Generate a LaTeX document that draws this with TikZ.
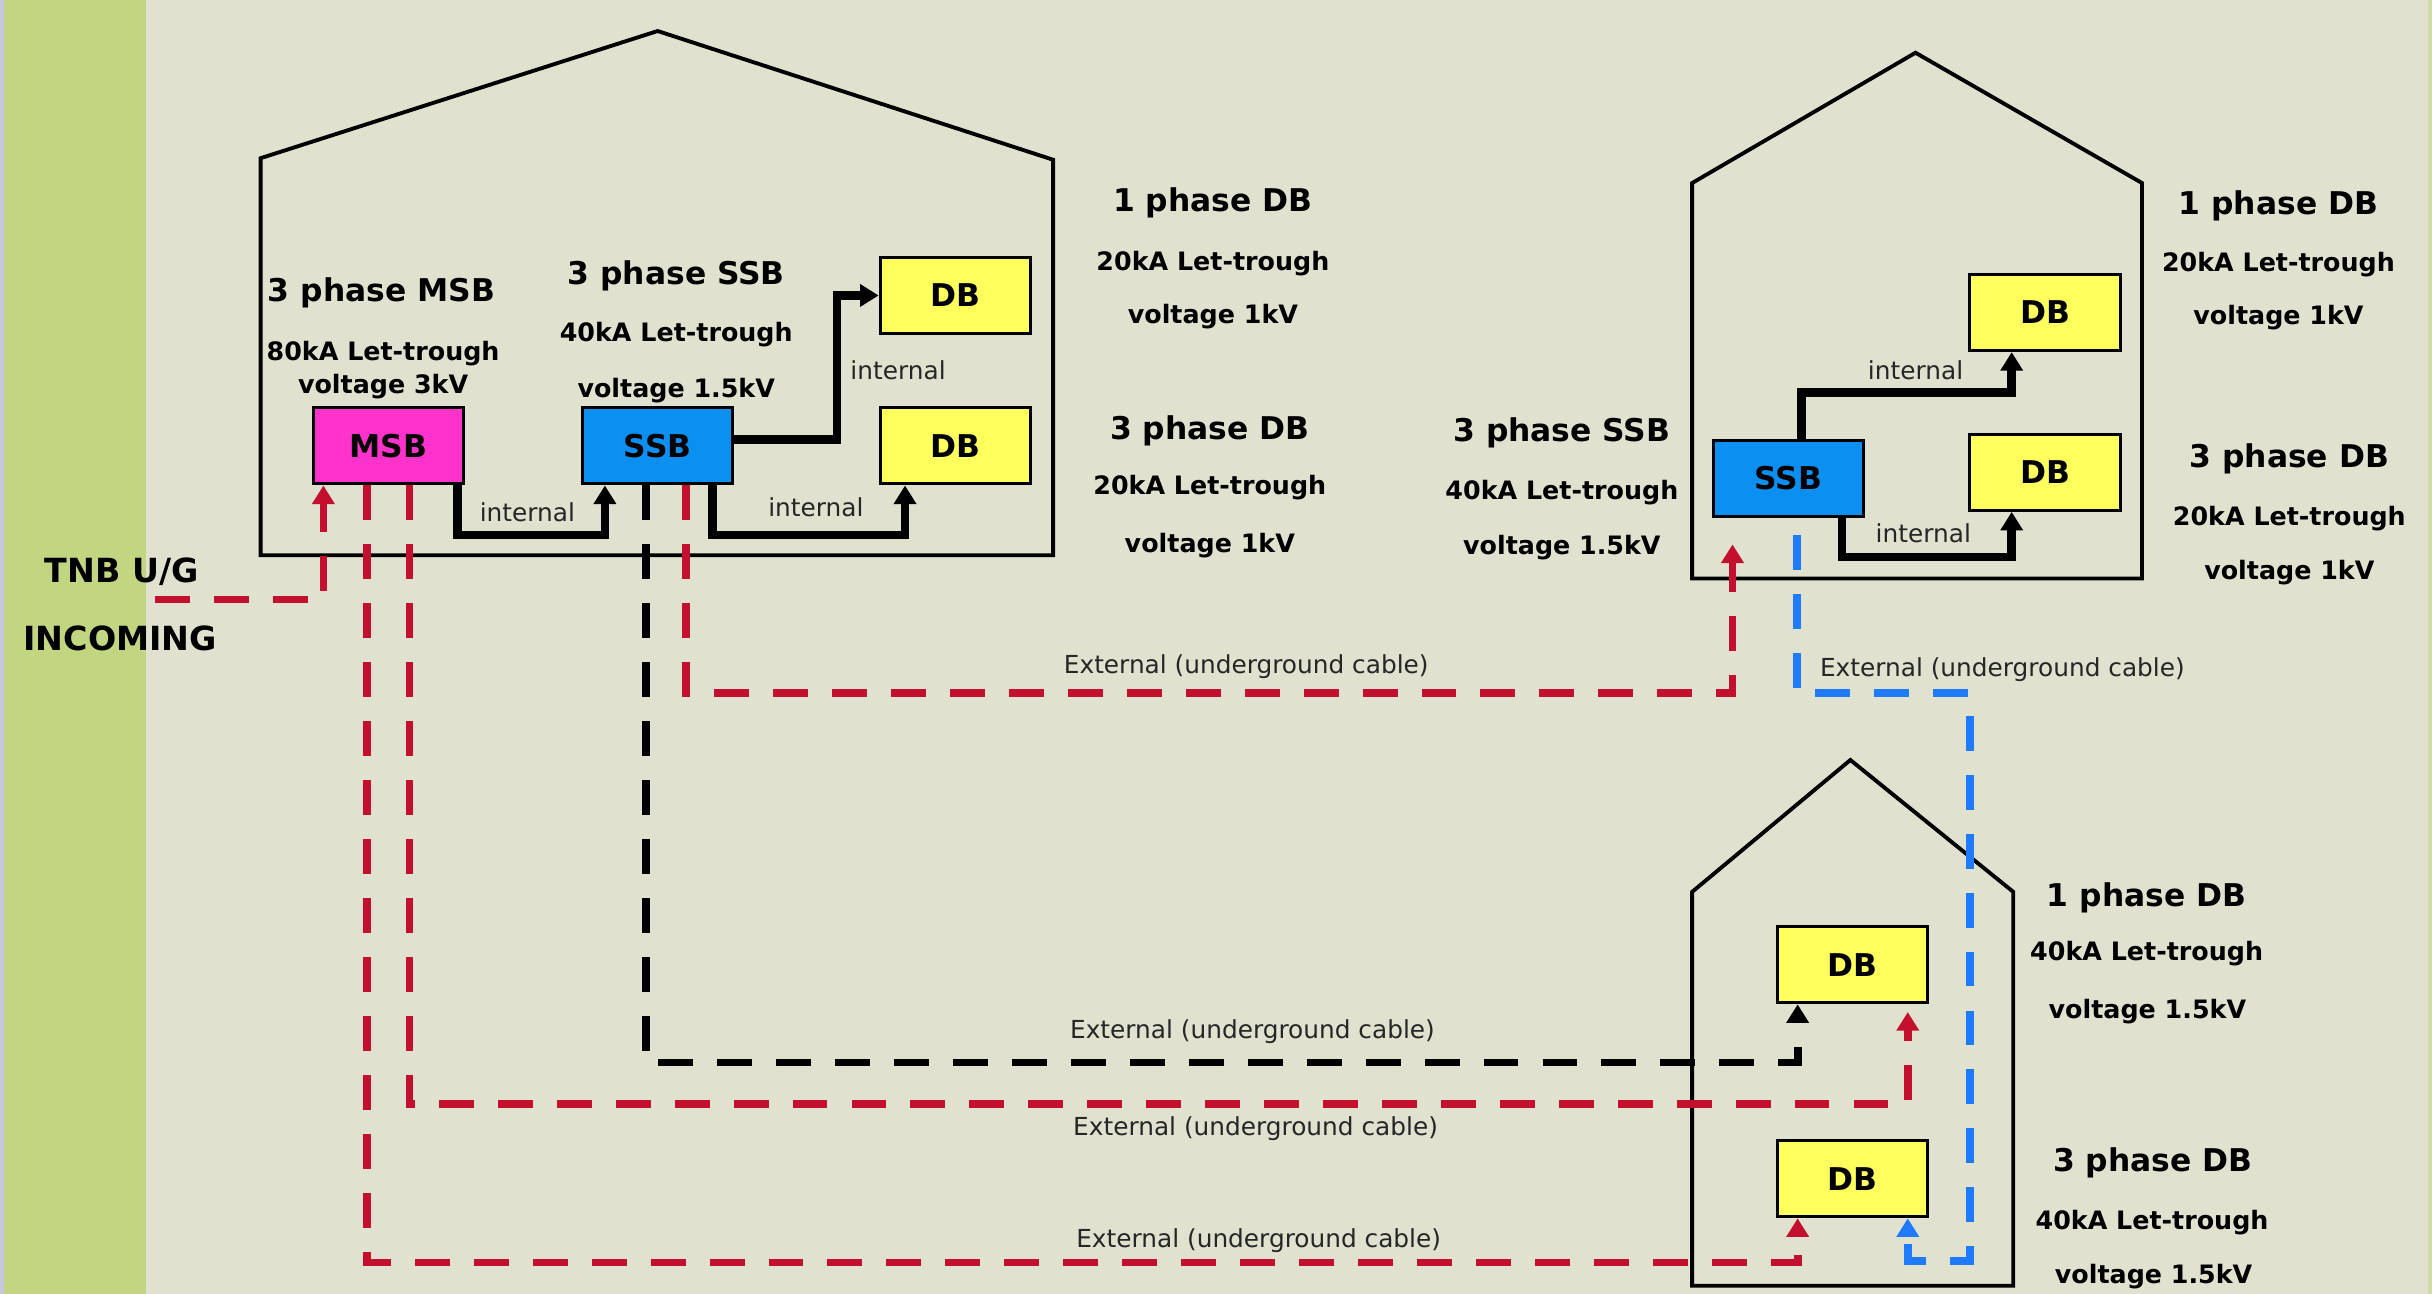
\documentclass[tikz,border=0pt]{standalone}
\usepackage{fontspec}
\setmainfont{DejaVu Sans}
\usetikzlibrary{arrows.meta}

\definecolor{bgpaper}{HTML}{E0E2CF}
\definecolor{strip}{HTML}{C2D580}
\definecolor{stripedge}{HTML}{C5C8DC}
\definecolor{msbpink}{HTML}{FF33CC}
\definecolor{ssbblue}{HTML}{0B90F2}
\definecolor{dbyellow}{HTML}{FFFF5E}
\definecolor{cablered}{HTML}{C3102F}
\definecolor{cableblue}{HTML}{1E7BFF}

\begin{document}
\begin{tikzpicture}[x=0.2mm, y=-0.2mm,
    box/.style={draw, line width=0.4mm, minimum width=19.4mm, minimum height=9.8mm, inner sep=0pt, font=\bfseries\fontsize{11.5}{14}\selectfont},
    house/.style={draw, line width=0.5mm},
    title/.style={font=\bfseries\fontsize{11.5}{14}\selectfont},
    spec/.style={font=\bfseries\fontsize{9.3}{11}\selectfont},
    cab/.style={font=\fontsize{9.1}{11}\selectfont, text=black!85},
    intl/.style={line width=1.1mm, -{Triangle[width=2.8mm,length=2.4mm]}},
    ext/.style={line width=1mm, dash pattern=on 4.5mm off 3.1mm, -{Triangle[width=2.8mm,length=2.4mm]}}]
    \useasboundingbox (0,0) rectangle (1568,834);

    % paper and incoming strip
    \fill[bgpaper] (0,0) rectangle (1568,834);
    \fill[strip] (2.6,0) rectangle (94,834);
    \fill[stripedge] (0,0) rectangle (2.6,834);
    \fill[strip!50!bgpaper] (1565.5,0) rectangle (1568,834);

    % buildings
    \draw[house] (168,358) -- (168,102) -- (424,20) -- (679,103) -- (679,358) -- cycle;
    \draw[house] (1091,373) -- (1091,118) -- (1235,34) -- (1381,118) -- (1381,373) -- cycle;
    \draw[house] (1091,829) -- (1091,575) -- (1193,490) -- (1298,575) -- (1298,829) -- cycle;

    % boards
    \node[box, fill=msbpink] (msb) at (250.5,287.5) {MSB};
    \node[box, fill=ssbblue] (ssbA) at (424,287.5) {SSB};
    \node[box, fill=dbyellow] (dbA1) at (616,190.5) {DB};
    \node[box, fill=dbyellow] (dbA3) at (616,287.5) {DB};
    \node[box, fill=ssbblue] (ssbB) at (1153,308.5) {SSB};
    \node[box, fill=dbyellow] (dbB1) at (1318.5,201.5) {DB};
    \node[box, fill=dbyellow] (dbB3) at (1318.5,304.5) {DB};
    \node[box, fill=dbyellow] (dbC1) at (1194.5,622) {DB};
    \node[box, fill=dbyellow] (dbC3) at (1194.5,760) {DB};

    % ratings, first building
    \node[title] (msbT) at (246,189) {3 phase MSB};
    \node[spec] (msbK) at (247,228) {80kA Let-trough};
    \node[spec] (msbV) at (247,249) {voltage 3kV};
    \node[title] (ssbAT) at (436,178) {3 phase SSB};
    \node[spec] (ssbAK) at (436,216) {40kA Let-trough};
    \node[spec] (ssbAV) at (436,252) {voltage 1.5kV};
    \node[title] (dbA1T) at (782,131) {1 phase DB};
    \node[spec] (dbA1K) at (782,170) {20kA Let-trough};
    \node[spec] (dbA1V) at (782,204) {voltage 1kV};
    \node[title] (dbA3T) at (780,277.5) {3 phase DB};
    \node[spec] (dbA3K) at (780,314.5) {20kA Let-trough};
    \node[spec] (dbA3V) at (780,351.5) {voltage 1kV};

    % ratings, second building
    \node[title] (ssbBT) at (1007,279) {3 phase SSB};
    \node[spec] (ssbBK) at (1007,317.5) {40kA Let-trough};
    \node[spec] (ssbBV) at (1007,353) {voltage 1.5kV};
    \node[title] (dbB1T) at (1469,132.5) {1 phase DB};
    \node[spec] (dbB1K) at (1469,170.5) {20kA Let-trough};
    \node[spec] (dbB1V) at (1469,205) {voltage 1kV};
    \node[title] (dbB3T) at (1476,296) {3 phase DB};
    \node[spec] (dbB3K) at (1476,334.5) {20kA Let-trough};
    \node[spec] (dbB3V) at (1476,369) {voltage 1kV};

    % ratings, third building
    \node[title] (dbC1T) at (1384,579) {1 phase DB};
    \node[spec] (dbC1K) at (1384,615) {40kA Let-trough};
    \node[spec] (dbC1V) at (1384.5,652) {voltage 1.5kV};
    \node[title] (dbC3T) at (1388,750) {3 phase DB};
    \node[spec] (dbC3K) at (1387.5,788) {40kA Let-trough};
    \node[spec] (dbC3V) at (1388.5,823) {voltage 1.5kV};

    % supply
    \node[title, font=\bfseries\fontsize{12.2}{14}\selectfont] (tnbA) at (78.6,368.4) {TNB U/G};
    \node[title, font=\bfseries\fontsize{12.2}{14}\selectfont] (tnbB) at (77.6,411.5) {INCOMING};
    \coordinate (tnb) at (100,386.5);

    % internal wiring
    \draw[intl] ([xshift=-1mm]msb.south east) -- ++(0,32) -| ([xshift=-6.8mm]ssbA.south);
    \draw[intl] ([yshift=0.8mm]ssbA.east) -- ++(66,0) |- (dbA1.west);
    \draw[intl] ([xshift=-2.8mm]ssbA.south east) -- ++(0,32) -| ([xshift=-6.5mm]dbA3.south);
    \draw[intl] ([xshift=1.7mm]ssbB.north) -- ++(0,-30) -| ([xshift=-4.3mm]dbB1.south);
    \draw[intl] ([xshift=6.9mm]ssbB.south) -- ++(0,25) -| ([xshift=-4.3mm]dbB3.south);
    \node[cab] (inA1) at (579,239) {internal};
    \node[cab] (inA2) at (340,330) {internal};
    \node[cab] (inA3) at (526,327) {internal};
    \node[cab] (inB1) at (1235,239) {internal};
    \node[cab] (inB3) at (1240,344) {internal};

    % underground cables
    \draw[ext, cablered] (tnb) -| ([xshift=1.5mm]msb.south west);
    \draw[ext, cablered] ([xshift=7.1mm]msb.south west) -- ++(0,501) -| ([xshift=2.8mm]dbC3.south west);
    \draw[ext, cablered, shorten >=1mm] ([xshift=12.6mm]msb.south west) -- ++(0,399) -| ([xshift=-2.8mm]dbC1.south east);
    \draw[ext] ([xshift=8.4mm]ssbA.south west) -- ++(0,372) -| ([xshift=2.8mm]dbC1.south west);
    \draw[ext, cablered, shorten >=3.4mm] ([xshift=13.6mm]ssbA.south west) -- ++(0,134) -| ([xshift=2.7mm]ssbB.south west);
    \coordinate (bend) at (1270,813);
    \draw[ext, cableblue, shorten <=2.2mm] ([xshift=11mm]ssbB.south west) -- ++(0,113) -| (bend) -| ([xshift=-2.8mm]dbC3.south east);

    \node[cab] (extA) at (803.5,430) {External (underground cable)};
    \node[cab] (extB) at (1291,432) {External (underground cable)};
    \node[cab] (extC1) at (807.5,665) {External (underground cable)};
    \node[cab] (extC2) at (809.5,728) {External (underground cable)};
    \node[cab] (extC3) at (811.5,800) {External (underground cable)};
\end{tikzpicture}
\end{document}
